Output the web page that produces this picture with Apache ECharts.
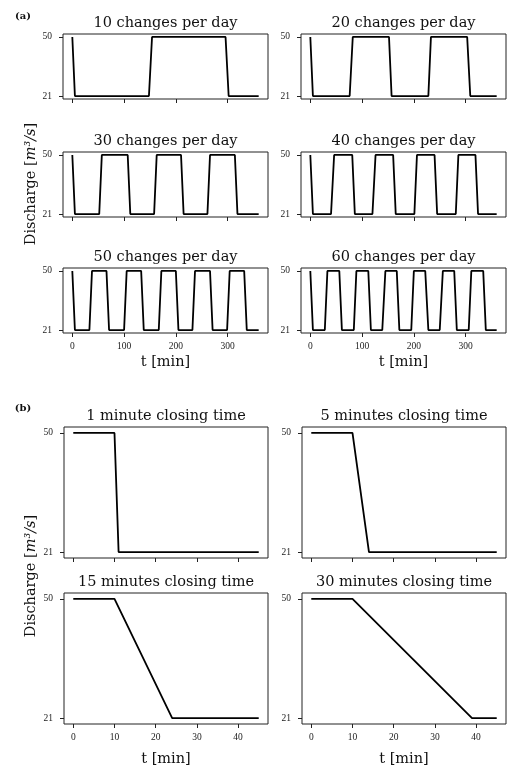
<!DOCTYPE html>
<html>
<head>
<meta charset="utf-8">
<script src="https://cdn.jsdelivr.net/npm/echarts@6/dist/echarts.min.js"></script>
<style>
html, body { margin: 0; padding: 0; background: #fff; }
#chart { width: 514px; height: 771px; }
</style>
</head>
<body>
<div id="chart"></div>
<script>
// tick values
var ticksA = [0, 100, 200, 300];
var ticksB = [0, 10, 20, 30, 40];
var dischargeTicks = [21, 50];

// titles
var titlesA = ['10 changes per day', '20 changes per day', '30 changes per day',
    '40 changes per day', '50 changes per day', '60 changes per day'];
var titlesB = ['1 minute closing time', '5 minutes closing time',
    '15 minutes closing time', '30 minutes closing time'];

// (a) discharge [m3/s] vs t [min]
var changes10 = [[0, 50], [5, 21], [148, 21], [154, 50], [296, 50], [302, 21], [360, 21]];
var changes20 = [[0, 50], [5, 21], [76, 21], [82, 50], [152, 50], [157, 21], [228, 21], [233, 50],
    [303, 50], [309, 21], [360, 21]];
var changes30 = [[0, 50], [5, 21], [52, 21], [57, 50], [107, 50], [112, 21], [158, 21], [163, 50],
    [210, 50], [215, 21], [261, 21], [266, 50], [314, 50], [319, 21], [360, 21]];
var changes40 = [[0, 50], [5, 21], [40, 21], [46, 50], [81, 50], [86, 21], [120, 21], [126, 50],
    [160, 50], [165, 21], [201, 21], [206, 50], [240, 50], [245, 21], [281, 21], [286, 50],
    [319, 50], [324, 21], [360, 21]];
var changes50 = [[0, 50], [5, 21], [33, 21], [38, 50], [66, 50], [71, 21], [100, 21], [105, 50],
    [133, 50], [138, 21], [167, 21], [172, 50], [200, 50], [205, 21], [232, 21], [237, 50],
    [266, 50], [271, 21], [299, 21], [304, 50], [332, 50], [337, 21], [360, 21]];
var changes60 = [[0, 50], [5, 21], [28, 21], [33, 50], [56, 50], [61, 21], [84, 21], [89, 50],
    [112, 50], [117, 21], [139, 21], [145, 50], [167, 50], [172, 21], [195, 21], [200, 50],
    [222, 50], [228, 21], [250, 21], [256, 50], [278, 50], [283, 21], [306, 21], [311, 50],
    [334, 50], [339, 21], [360, 21]];

// (b) closing times
var closing1 = [[0, 50], [10, 50], [11, 21], [45, 21]];
var closing5 = [[0, 50], [10, 50], [14, 21], [45, 21]];
var closing15 = [[0, 50], [10, 50], [24, 21], [45, 21]];
var closing30 = [[0, 50], [10, 50], [39, 21], [45, 21]];

var seriesA = [changes10, changes20, changes30, changes40, changes50, changes60];
var seriesB = [closing1, closing5, closing15, closing30];

var serif = 'DejaVu Serif';
var grids = [], xAxes = [], yAxes = [], series = [], titles = [];

function addPanel(left, top, w, h, data, title, xmin, xmax, ticks, showLabels, nameGap) {
    var i = grids.length;
    grids.push({
        left: left, top: top, width: w, height: h,
        show: true, borderColor: '#222', borderWidth: 1, backgroundColor: 'transparent'
    });
    xAxes.push({
        type: 'value', gridIndex: i, min: xmin, max: xmax,
        axisLine: { show: false, onZero: false },
        axisTick: { show: true, length: 4, customValues: ticks, lineStyle: { color: '#222' } },
        axisLabel: {
            show: showLabels, customValues: ticks, margin: 8,
            fontFamily: 'Liberation Serif', fontSize: 9.5, color: '#222'
        },
        splitLine: { show: false },
        name: showLabels ? 't [min]' : '',
        nameLocation: 'middle', nameGap: nameGap,
        nameTextStyle: { fontFamily: serif, fontSize: 14.5, color: '#111' }
    });
    yAxes.push({
        type: 'value', gridIndex: i, min: 19.55, max: 51.45,
        axisLine: { show: false, onZero: false },
        axisTick: { show: true, length: 4, customValues: dischargeTicks, lineStyle: { color: '#222' } },
        axisLabel: {
            customValues: dischargeTicks, margin: 11,
            fontFamily: 'Liberation Serif', fontSize: 9.5, color: '#222'
        },
        splitLine: { show: false }
    });
    series.push({
        type: 'line', xAxisIndex: i, yAxisIndex: i, data: data,
        symbol: 'none', animation: false,
        lineStyle: { color: '#000', width: 1.8 }
    });
    titles.push({
        text: title, left: left + w / 2, top: top - 18, textAlign: 'center', padding: 0,
        textStyle: { fontFamily: serif, fontSize: 14.5, fontWeight: 'normal', color: '#111' }
    });
}

var colA = [63, 301], rowA = [34, 152, 268];
for (var k = 0; k < 6; k++) {
    var r = Math.floor(k / 2), c = k % 2;
    addPanel(colA[c], rowA[r], 205, 65, seriesA[k], titlesA[k], -18, 378, ticksA, r === 2, 22);
}
var colB = [64, 302], rowB = [427, 593];
for (var m = 0; m < 4; m++) {
    var rb = Math.floor(m / 2), cb = m % 2;
    addPanel(colB[cb], rowB[rb], 204, 131, seriesB[m], titlesB[m], -2.25, 47.25, ticksB, rb === 1, 28);
}

var yLabel = 'Discharge [{i|m³/s}]';
var labelRich = { i: { fontFamily: serif, fontSize: 14.5, fontStyle: 'italic', color: '#111' } };

var myChart = echarts.init(document.getElementById('chart'));
var option = {
    backgroundColor: '#fff',
    animation: false,
    title: titles,
    grid: grids,
    xAxis: xAxes,
    yAxis: yAxes,
    series: series,
    graphic: [
        { type: 'text', x: 23, y: 16, style: { text: '(a)', fontFamily: serif, fontWeight: 'bold', fontSize: 10, fill: '#111', align: 'center', verticalAlign: 'middle' } },
        { type: 'text', x: 23, y: 408, style: { text: '(b)', fontFamily: serif, fontWeight: 'bold', fontSize: 10, fill: '#111', align: 'center', verticalAlign: 'middle' } },
        { type: 'text', x: 31, y: 184, rotation: Math.PI / 2, style: { text: yLabel, rich: labelRich, fontFamily: serif, fontSize: 14.5, fill: '#111', align: 'center', verticalAlign: 'middle' } },
        { type: 'text', x: 31, y: 576, rotation: Math.PI / 2, style: { text: yLabel, rich: labelRich, fontFamily: serif, fontSize: 14.5, fill: '#111', align: 'center', verticalAlign: 'middle' } }
    ]
};
myChart.setOption(option);
window.addEventListener('resize', function () {
    myChart.resize();
});
</script>
</body>
</html>
